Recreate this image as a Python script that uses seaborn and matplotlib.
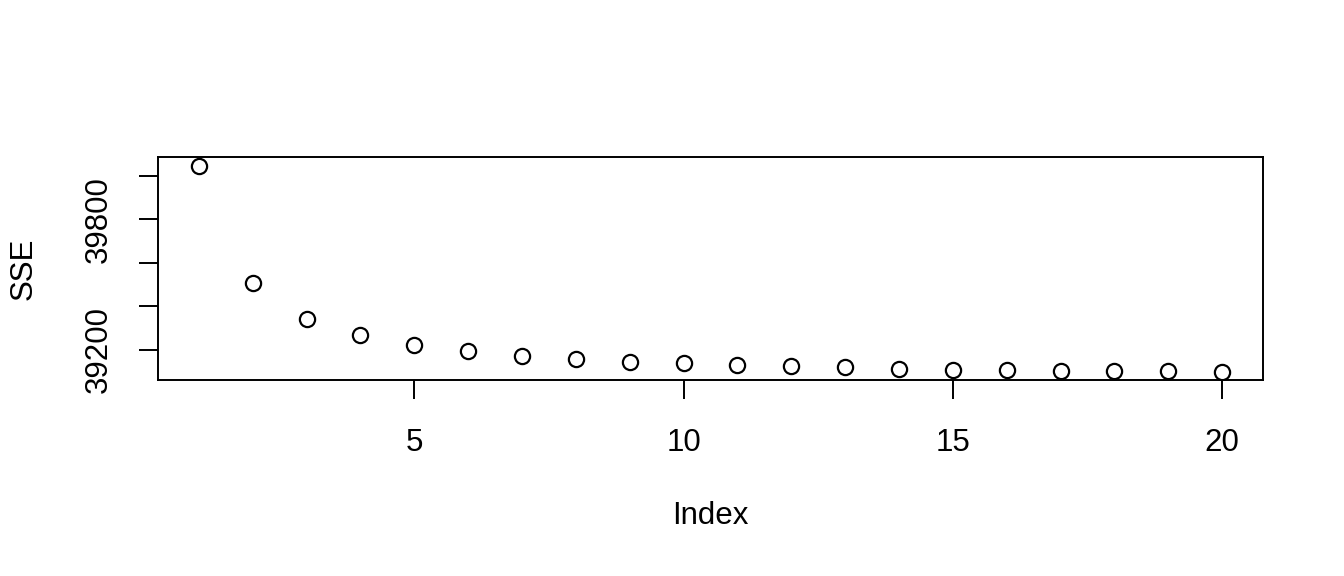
import matplotlib
matplotlib.use("Agg")
import matplotlib.pyplot as plt
import pandas as pd
import seaborn as sns

# SSE per index
index = list(range(1, 21))
sse = [40047, 39508, 39343, 39268, 39223, 39195, 39174, 39160, 39146, 39139,
       39132, 39126, 39122, 39114, 39109, 39107, 39105, 39103, 39102, 39100]

x_ticks = [5, 10, 15, 20]
y_ticks = [39200, 39400, 39600, 39800, 40000]
y_tick_labels = ['39200', '', '', '39800', '']

dt = pd.DataFrame({'Index': index, 'SSE': sse})

sns.set_style("white")
plt.rcParams['font.family'] = ['Liberation Sans', 'DejaVu Sans']

fig = plt.figure(figsize=(13.44, 5.76), dpi=100)
ax = fig.add_axes([158 / 1344, 1 - 380 / 576, 1105 / 1344, 223 / 576])

sns.scatterplot(data=dt, x='Index', y='SSE', ax=ax, s=120, marker='o',
                facecolor='white', edgecolor='black', linewidth=1.6, zorder=3)

ax.set_xlim(0.24, 20.76)
ax.set_ylim(39062, 40087)

ax.set_xticks(x_ticks)
ax.set_xticklabels([str(t) for t in x_ticks])
ax.set_yticks(y_ticks)
ax.set_yticklabels(y_tick_labels, rotation=90, va='center')

ax.tick_params(axis='both', direction='out', length=13.5, width=1.4,
               color='black', labelsize=22.5, labelcolor='black', pad=21,
               left=True, bottom=True)
ax.tick_params(axis='y', pad=18)

for sp in ax.spines.values():
    sp.set_visible(True)
    sp.set_color('black')
    sp.set_linewidth(1.4)

ax.set_xlabel('Index', fontsize=22.5, color='black')
ax.set_ylabel('SSE', fontsize=22.5, color='black')
ax.xaxis.set_label_coords(0.5, -(516 - 380) / 223)
ax.xaxis.label.set_va('center')
ax.yaxis.set_label_coords(-(158 - 24) / 1105, 0.5)
ax.yaxis.label.set_va('center')

ax.grid(False)

plt.savefig('out.png', dpi=100)
plt.close()
